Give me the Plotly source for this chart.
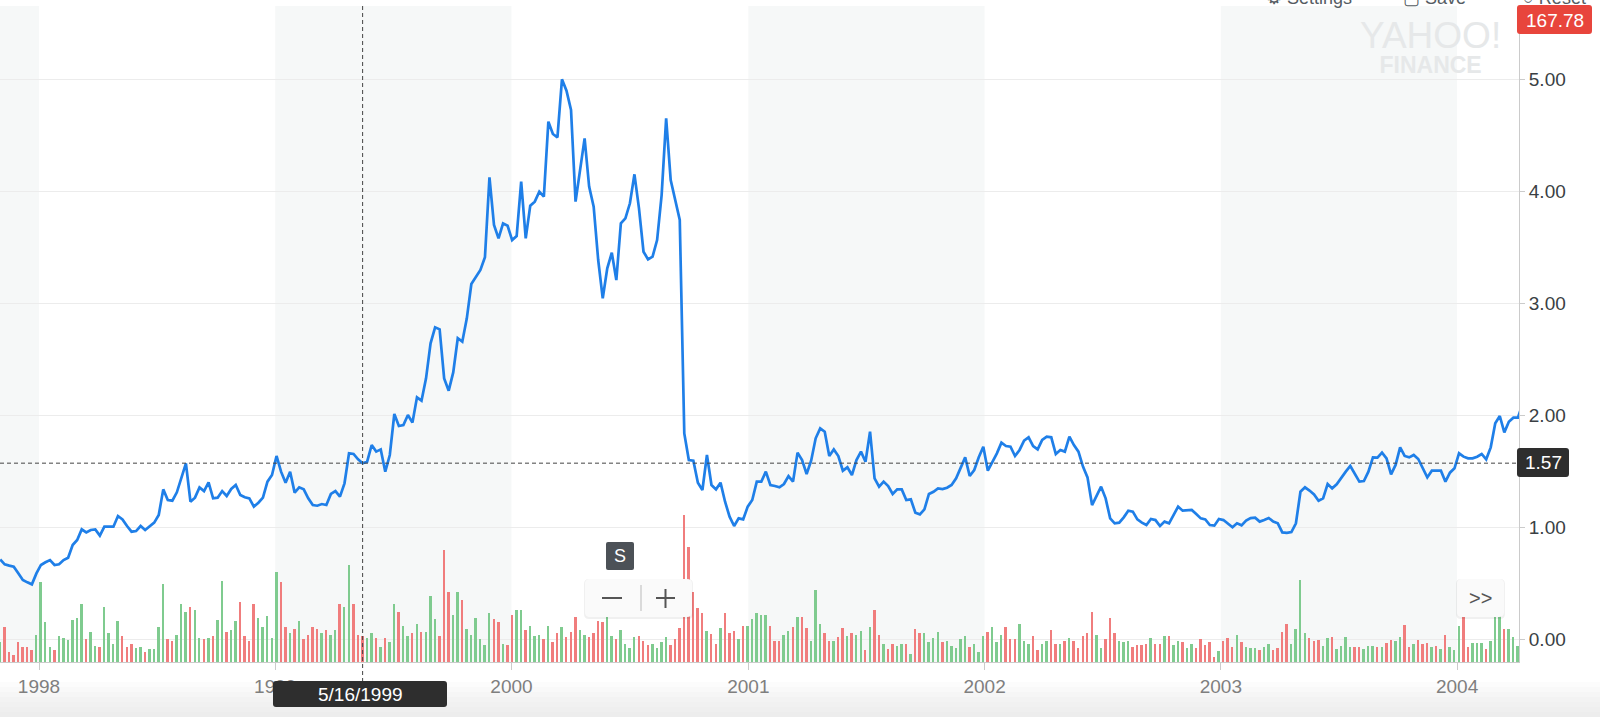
import pandas as pd
import plotly.graph_objects as go

# ----------------------------------------
# weekly closes, one list per calendar year (first week: 1997-11-02)
close_1997 = [0.71, 0.667, 0.655, 0.646, 0.586, 0.527, 0.506, 0.488, 0.586]
close_1998 = [0.661, 0.685, 0.705, 0.661, 0.667, 0.705, 0.726, 0.839, 0.884, 0.979,
              0.952, 0.973, 0.979, 0.923, 1.003, 1.003, 1.003, 1.098, 1.068, 1.009,
              0.958, 0.964, 1.009, 0.973, 1.003, 1.039, 1.107, 1.336, 1.241, 1.235,
              1.310, 1.449, 1.568, 1.226, 1.262, 1.354, 1.321, 1.399, 1.256, 1.262,
              1.321, 1.277, 1.34, 1.375, 1.286, 1.265, 1.256, 1.182, 1.217, 1.262,
              1.405, 1.464]
close_1999 = [1.634, 1.494, 1.396, 1.494, 1.307, 1.354, 1.336, 1.256, 1.196, 1.19,
              1.205, 1.196, 1.295, 1.321, 1.271, 1.390, 1.658, 1.652, 1.604, 1.57,
              1.583, 1.732, 1.673, 1.693, 1.494, 1.643, 2.009, 1.902, 1.911, 2.000,
              1.932, 2.158, 2.128, 2.327, 2.640, 2.783, 2.765, 2.327, 2.217, 2.38,
              2.685, 2.655, 2.863, 3.17, 3.235, 3.295, 3.408, 4.122, 3.696, 3.577,
              3.711, 3.690]
close_2000 = [3.562, 3.598, 4.083, 3.577, 3.869, 3.905, 3.994, 3.949, 4.619, 4.509,
              4.479, 4.997, 4.896, 4.723, 3.905, 4.187, 4.470, 4.039, 3.860, 3.384,
              3.042, 3.310, 3.449, 3.205, 3.711, 3.756, 3.890, 4.149, 3.845, 3.458,
              3.390, 3.414, 3.562, 3.964, 4.649, 4.098, 3.92, 3.741, 1.836, 1.598,
              1.592, 1.396, 1.330, 1.643, 1.375, 1.336, 1.396, 1.226, 1.092, 1.009,
              1.077, 1.068, 1.182]
close_2001 = [1.241, 1.405, 1.405, 1.494, 1.375, 1.366, 1.354, 1.384, 1.455, 1.405,
              1.664, 1.598, 1.473, 1.592, 1.792, 1.881, 1.851, 1.634, 1.693, 1.634,
              1.503, 1.533, 1.464, 1.598, 1.673, 1.583, 1.851, 1.435, 1.360, 1.405,
              1.366, 1.295, 1.336, 1.336, 1.241, 1.247, 1.128, 1.113, 1.158, 1.295,
              1.315, 1.345, 1.339, 1.351, 1.375, 1.435, 1.533, 1.622, 1.455, 1.509,
              1.622, 1.717]
close_2002 = [1.503, 1.574, 1.658, 1.753, 1.723, 1.717, 1.634, 1.688, 1.771, 1.801,
              1.723, 1.693, 1.777, 1.807, 1.801, 1.652, 1.688, 1.673, 1.807, 1.732,
              1.673, 1.539, 1.443, 1.196, 1.286, 1.360, 1.256, 1.077, 1.033, 1.039,
              1.086, 1.146, 1.137, 1.068, 1.039, 1.018, 1.071, 1.062, 1.009, 1.048,
              1.033, 1.107, 1.182, 1.146, 1.152, 1.152, 1.116, 1.077, 1.068, 1.018,
              1.012, 1.071]
close_2003 = [1.062, 1.027, 0.997, 1.033, 1.015, 1.057, 1.080, 1.083, 1.048, 1.062,
              1.080, 1.048, 1.033, 0.952, 0.948, 0.955, 1.033, 1.315, 1.354, 1.325,
              1.29, 1.235, 1.256, 1.384, 1.345, 1.381, 1.443, 1.494, 1.545, 1.479,
              1.405, 1.411, 1.494, 1.622, 1.619, 1.664, 1.613, 1.470, 1.554, 1.711,
              1.634, 1.622, 1.643, 1.607, 1.524, 1.443, 1.503, 1.500, 1.503, 1.405,
              1.485, 1.524]
close_2004 = [1.658, 1.628, 1.613, 1.613, 1.628, 1.652, 1.604, 1.711, 1.926, 1.991,
              1.845, 1.940, 1.976, 1.976, 2.098]

# weekly volume (relative units), same weeks as above
vol_1997 = [20, 35, 10.3, 7.3, 19.7, 15, 15, 12.3, 27.3]
vol_1998 = [79.7, 39.7, 15, 12.3, 25.7, 24, 21.7, 42.3, 44.3, 58.3,
            23, 30.3, 16.3, 15, 55, 29, 18.3, 41.3, 25.7, 15,
            18.3, 13.7, 15, 10.3, 13.3, 13.3, 35, 78, 23, 21.3,
            27.3, 58.3, 50.3, 55, 51.7, 24, 23, 24, 25.7, 42.3,
            81, 30.3, 32.3, 41.3, 59.7, 25.7, 21.3, 58.3, 44.3, 35,
            45.7, 24.3]
vol_1999 = [90.3, 79.7, 35, 29, 33.3, 41.3, 23, 27.3, 35, 33.3,
            29, 32, 27.3, 32, 58.3, 55, 96.7, 58.3, 27.3, 25.7,
            24.3, 29, 24.3, 15, 24.3, 19.7, 58.3, 50.3, 36.3, 25.7,
            29, 38.3, 30.3, 30.3, 65.7, 43, 25.7, 111.7, 70.3, 47.3,
            70.3, 62.3, 33.3, 27.3, 44.3, 23, 16.7, 49, 43, 39.7,
            18.3, 16.7]
vol_2000 = [47.3, 52.3, 52.3, 32.3, 36.3, 26.3, 27.3, 23, 36.3, 19.7,
            29, 35.3, 24.7, 30.3, 44.7, 32.3, 27.3, 24.7, 29, 41.3,
            39.7, 55, 25.7, 23, 32.3, 18.3, 13.7, 24.7, 25.7, 21.3,
            16.7, 18.3, 13.7, 19.7, 24.7, 16.7, 23, 33.7, 147, 114.7,
            70.3, 53.7, 49, 30.7, 27.7, 18.3, 34, 49, 29, 30.7,
            23, 36.3, 36.3]
vol_2001 = [43, 49, 47.3, 47.3, 36.3, 21.3, 21.3, 27.3, 30.7, 35.3,
            44.7, 44.7, 33.7, 21.3, 72.3, 38.3, 29, 21.3, 21.3, 24.7,
            33.7, 26, 29, 27.3, 30.7, 12, 35.3, 52.3, 27.3, 18.3,
            13.5, 18.3, 16.5, 18.3, 18.3, 8, 33.5, 29, 29, 19.7,
            24.3, 30.5, 19.7, 21.3, 16.5, 13.7, 22.8, 25.8, 15.2, 18.3,
            10.5, 25.8]
vol_2002 = [30.5, 35.2, 19.7, 27.3, 35, 22.7, 22.7, 38, 21.3, 18.3,
            25.7, 12, 18.3, 21.3, 32, 18.3, 18.3, 21.3, 24.3, 21.3,
            13.7, 25.7, 29, 50.3, 27.3, 13.7, 22.7, 44.3, 29, 21.3,
            19.7, 21.3, 15, 16.7, 16.7, 18.3, 24.3, 18.3, 18.3, 25.7,
            25.7, 16.7, 21.3, 19.7, 13.7, 18.3, 13.7, 22.7, 16.7, 19.7,
            4.7, 10.7]
vol_2003 = [21.3, 24.3, 15, 27.3, 19.7, 15, 13.7, 13.7, 12.3, 15,
            18.3, 12.3, 13.7, 30.3, 38, 18.3, 33.3, 82, 29, 24.3,
            21.2, 22.2, 16.2, 23.8, 25, 13, 15.7, 25, 14.7, 14.7,
            14.7, 13, 15.7, 15.7, 14.7, 14.7, 19, 22.3, 20.7, 25,
            37.3, 14.7, 17.7, 22, 17.7, 19, 14.7, 16, 13, 26.7,
            14.7, 11.7]
vol_2004 = [35.7, 52, 14.7, 19, 19, 19, 13, 20.7, 55, 55,
            32.7, 32.7, 25, 15.7, 12]

price_ticks = [0, 1, 2, 3, 4, 5]
shaded_years = [1997, 1999, 2001, 2003]
hover_date = pd.Timestamp("1999-05-16")
hover_close = 1.57
last_quote = "167.78"

# ----------------------------------------
closes = close_1997 + close_1998 + close_1999 + close_2000 + close_2001 + close_2002 + close_2003 + close_2004
volumes = vol_1997 + vol_1998 + vol_1999 + vol_2000 + vol_2001 + vol_2002 + vol_2003 + vol_2004
weeks = pd.date_range("1997-11-02", periods=len(closes), freq="W-SUN")

BLUE = "#1f7fe8"
UP = "#7fcb8f"
DOWN = "#f07d7d"
SHADE = "#f6f8f8"
GRID = "#ececec"
AXIS = "#cbcbcb"
DARK = "#2e2e2e"
FONT = "Liberation Sans, Arial, Helvetica, sans-serif"

bar_colors = [UP] + [UP if c >= p else DOWN for p, c in zip(closes[:-1], closes[1:])]

# figure geometry (px)
W, H = 1600, 717
L, R, T, B = 0, 81, 6, 55
PW, PH = W - L - R, H - T - B
VOL_TOP = PH  # volume axis: one unit per pixel
DAYS_PER_PX = 365.25 / 236.4


def pxx(x):
    return (x - L) / PW


def pxy(y):
    return (H - B - y) / PH


def box_path(x0, y0, x1, y1, r=3):
    # rounded rectangle given in page pixels -> svg path in paper units
    X = lambda v: f"{pxx(v):.5f}"
    Y = lambda v: f"{pxy(v):.5f}"
    return (f"M {X(x0 + r)},{Y(y0)} L {X(x1 - r)},{Y(y0)} Q {X(x1)},{Y(y0)} {X(x1)},{Y(y0 + r)} "
            f"L {X(x1)},{Y(y1 - r)} Q {X(x1)},{Y(y1)} {X(x1 - r)},{Y(y1)} "
            f"L {X(x0 + r)},{Y(y1)} Q {X(x0)},{Y(y1)} {X(x0)},{Y(y1 - r)} "
            f"L {X(x0)},{Y(y0 + r)} Q {X(x0)},{Y(y0)} {X(x0 + r)},{Y(y0)} Z")


# first year tick sits 39px in from the left edge
x_start = pd.Timestamp("1998-01-01") - pd.Timedelta(days=39 * DAYS_PER_PX)
x_end = x_start + pd.Timedelta(days=PW * DAYS_PER_PX)
bar_ms = 3.0 * 24 * 3600 * 1000

fig = go.Figure()
fig.add_trace(go.Bar(x=weeks, y=volumes, width=bar_ms, yaxis="y",
                     marker=dict(color=bar_colors, line_width=0), hoverinfo="skip"))
fig.add_trace(go.Scatter(x=weeks, y=closes, yaxis="y2", mode="lines",
                         line=dict(color=BLUE, width=2.7), hoverinfo="skip"))

# alternate year shading
for yr in shaded_years:
    fig.add_shape(type="rect", xref="x", yref="y", layer="below",
                  x0=pd.Timestamp(f"{yr}-01-01"), x1=pd.Timestamp(f"{yr + 1}-01-01"),
                  y0=0, y1=VOL_TOP, fillcolor=SHADE, line_width=0)

# bottom fade under the date axis
fade = ["#ffffff", "#fcfcfc", "#f9f9f9", "#f6f6f6", "#f3f3f3", "#f1f1f1", "#efefef", "#ededed"]
for i, c in enumerate(fade):
    fig.add_shape(type="rect", xref="paper", yref="paper", layer="below",
                  x0=0, x1=W / PW, y0=pxy(677 + i * 5), y1=pxy(677 + (i + 1) * 5 + 1),
                  fillcolor=c, line_width=0)

# crosshair
fig.add_shape(type="line", xref="x", yref="paper", x0=hover_date, x1=hover_date,
              y0=pxy(682), y1=1, line=dict(color="#444", width=1, dash="4px,3px"))
fig.add_shape(type="line", xref="paper", yref="y2", x0=0, x1=1, y0=hover_close, y1=hover_close,
              line=dict(color="#444", width=1, dash="4px,3px"))

# value flags on the price axis
fig.add_shape(type="path", xref="paper", yref="paper", path=box_path(1517, 5, 1592, 34),
              fillcolor="#e8453c", line_width=0)
fig.add_shape(type="path", xref="paper", yref="paper", path=box_path(1517, 448, 1569, 477),
              fillcolor=DARK, line_width=0)
# date flag
fig.add_shape(type="path", xref="paper", yref="paper", path=box_path(273, 681, 447, 707),
              fillcolor=DARK, line_width=0)

# "S" marker and zoom controls
fig.add_shape(type="path", xref="paper", yref="paper", path=box_path(606, 542, 634, 570, 2),
              fillcolor="#4c5157", line_width=0)
for x0, x1 in [(585, 692), (1457, 1504)]:
    fig.add_shape(type="path", xref="paper", yref="paper", path=box_path(x0 - 1, 579, x1 + 1, 619, 5),
                  fillcolor="rgba(0,0,0,0.06)", line_width=0)
    fig.add_shape(type="path", xref="paper", yref="paper", path=box_path(x0, 579, x1, 617, 5),
                  fillcolor="#fafafa", line_width=0)
ctrl_lines = [(602, 598, 622, 598, "#555", 2), (656, 598, 675, 598, "#555", 2),
              (665.5, 589, 665.5, 608, "#555", 2), (641, 585, 641, 611, "#cfcfcf", 1.5)]
for x0, y0, x1, y1, c, w in ctrl_lines:
    fig.add_shape(type="line", xref="paper", yref="paper", x0=pxx(x0), y0=pxy(y0),
                  x1=pxx(x1), y1=pxy(y1), line=dict(color=c, width=w))

notes = [
    (last_quote, 1554.5, 20, "white", 19),
    (f"{hover_close:.2f}", 1543, 462.5, "white", 19),
    (f"{hover_date.month}/{hover_date.day}/{hover_date.year}", 360, 694, "white", 19),
    ("S", 620, 556, "white", 18),
    (">>", 1480.5, 598, "#555", 20),
]
for text, cx, cy, color, size in notes:
    fig.add_annotation(xref="paper", yref="paper", x=pxx(cx), y=pxy(cy), showarrow=False,
                       xanchor="center", yanchor="middle", text=text,
                       font=dict(color=color, size=size, family=FONT))

# watermark (base size sets the tight line spacing)
fig.add_annotation(xref="paper", yref="paper", x=pxx(1430), y=pxy(46), showarrow=False,
                   xanchor="center", yanchor="middle", borderpad=0,
                   text=("<span style='font-size:37px'>YAHOO!</span><br>"
                         "<b><span style='font-size:23px'>FINANCE</span></b>"),
                   font=dict(color="#e6e8e9", size=19, family=FONT))

# toolbar above the chart (mostly scrolled out of view)
for text, x0 in [("\u2699 Settings", 1264), ("\u25a2 Save", 1401), ("\u25cb Reset", 1521)]:
    fig.add_annotation(xref="paper", yref="paper", x=pxx(x0), y=pxy(10), showarrow=False,
                       xanchor="left", yanchor="bottom", text=text,
                       font=dict(color="#555c63", size=18, family=FONT))

fig.update_layout(
    width=W, height=H,
    margin=dict(l=L, r=R, t=T, b=B),
    paper_bgcolor="white", plot_bgcolor="rgba(0,0,0,0)",
    showlegend=False, bargap=0,
    font=dict(family=FONT, size=19, color="#333"),
    xaxis=dict(type="date", range=[x_start, x_end], showgrid=False, zeroline=False,
               showline=True, linecolor=AXIS, linewidth=1,
               ticks="outside", ticklen=7, tickcolor=AXIS,
               tick0="1998-01-01", dtick="M12", tickformat="%Y",
               tickfont=dict(size=19, color="#7f7f7f")),
    yaxis=dict(range=[0, VOL_TOP], visible=False, fixedrange=True),
    yaxis2=dict(overlaying="y", side="right", range=[-23 / 112, 633 / 112],
                tickvals=price_ticks, tickformat=".2f",
                showgrid=True, gridcolor=GRID, gridwidth=1, zeroline=False,
                showline=True, linecolor=AXIS, linewidth=1,
                ticks="outside", ticklen=5, tickcolor=AXIS,
                tickfont=dict(size=19, color="#3a3f44")),
)

fig.write_html("out.html", config={"displayModeBar": False},
               post_script="document.body.style.margin='0';document.body.style.overflow='hidden';")
